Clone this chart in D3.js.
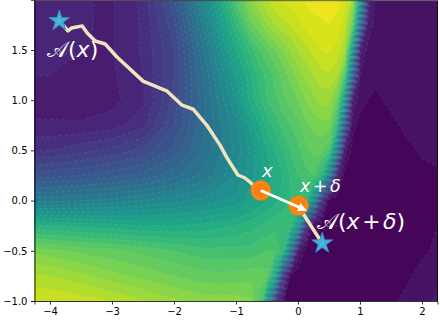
<!DOCTYPE html>
<html>
<head>
<meta charset="utf-8">
<script src="https://cdn.jsdelivr.net/npm/d3@7"></script>
<style>
  html, body { margin: 0; padding: 0; background: #fff; }
  svg { display: block; }
  text { font-family: "DejaVu Sans", sans-serif; }
</style>
</head>
<body>
<div id="chart"></div>
<script>
// grid positions of the field (finer around the steep front)
const xs = [-4.5,-4,-3.5,-3,-2.5,-2,-1.5,-1,-.75,-.625,-.5,-.375,-.25,-.125,0,.125,.25,.375,.5,.625,.75,.875,1,1.125,1.25,1.5,1.75,2,2.5];
const ys = [2.1,1.75,1.5,1.25,1,.75,.5,.25,0,-.25,-.5,-.75,-1.1];

// estimated colour position (percent along viridis), one row per ys entry
const field = [
  [11,10.6,9.2,8.7,13,28,50,75,86,89,92,94,95,96,97,97.5,98,98,98,98,96,90,62,18,5,5,5,5,5],
  [10.5,10.3,9.2,8.7,12.5,23,44,66,77,80,84,87,89,90,92,94,95,95.5,96,95,91,78,38,8,5,5,5,5,5],
  [10,9.8,9.1,8.7,12.5,21,40,60,68,72,75,78,81,84,87,89,91,93,93.5,92,88,55,10,5,5,5,5,5,5],
  [9.3,9,8,8.5,12,21,37,55,63,67,70,73,76,79,82,85,87,89,89.5,88,75,35,6,5,5,5,5,5,5],
  [7.5,7,7,8,11.5,22,36,51,62,65,69,71,74,76,78,81,83,85,85,78,55,10,4,3,1,5,5,5,5],
  [9.6,9.6,9.5,10.5,14,24,36,47,56,60,64,67,70,72,74,77,79,80,80,68,30,4,2,1,1,1,5,5,5],
  [15,15,17,19,22,28,37,46,52,56,60,63,66,69,71,74,76,76,72,45,8,2,1,1,1,1,1,4,5],
  [25,26,27,29,31,35,40,48,53,56,58,61,63,66,69,71,72,66,45,12,2,1,1,1,1,1,1,1,3],
  [41,41,42,43,45,47,49,52,56,58,60,62,64,66,68,66,50,18,2,1,1,1,1,1,1,1,1,1,1],
  [64,63,62,61,60,60,61,63,65,66,67,68,69,68,55,18,2,1,1,1,1,1,1,1,1,1,1,1,5],
  [81,79,77,76,74,72,70,70,70,71,72,72,68,42,8,2,1,1,1,1,1,1,1,1,1,1,1,2,6],
  [88,87,85,82,80,78,76,76,77,77,76,60,22,3,1,1,1,1,1,1,1,1,1,1,1,1,2,5,6],
  [95,95,94,93,90,87,85,85,83,72,40,5,1,1,1,1,1,1,1,1,1,1,1,1,1,3,5,6,6]
];

const levels = d3.range(0, 102, 3);

// optimisation path from x to A(x)
const pathX = [-3.84,-3.71,-3.65,-3.48,-3.40,-3.27,-3.11,-2.92,-2.50,-2.11,-1.87,-1.69,-1.47,-1.26,-1.145,-0.97,-0.855,-0.61];
const pathY = [1.785,1.69,1.72,1.74,1.67,1.59,1.56,1.43,1.19,1.09,0.95,0.91,0.75,0.555,0.425,0.255,0.225,0.10];
// path from x+delta to A(x+delta)
const path2X = [0, 0.39];
const path2Y = [-0.05, -0.425];

const pointX = [-0.6, 0.01];
const pointY = [0.1, -0.05];
const starX = [-3.85, 0.39];
const starY = [1.79, -0.425];
// arrow start and tip
const arrowX = [-0.6, 0.145];
const arrowY = [0.1, -0.1];

const xTicks = [-4,-3,-2,-1,0,1,2];
const yTicks = [-1,-0.5,0,0.5,1,1.5];

const width = 440, height = 320;
const margin = { top: 0.7, right: 2.5, bottom: 19, left: 34.5 };

const svg = d3.select("#chart").append("svg")
  .attr("width", width)
  .attr("height", height);

const xScale = d3.scaleLinear().domain([-4.25, 2.25])
  .range([margin.left, width - margin.right]);
const yScale = d3.scaleLinear().domain([-1, 2])
  .range([height - margin.bottom, -0.2]);

// contours come back in grid units, values sit at i + 0.5
const xIndex = d3.scaleLinear().domain(xs.map((d, i) => i + 0.5)).range(xs.map(d => xScale(d)));
const yIndex = d3.scaleLinear().domain(ys.map((d, i) => i + 0.5)).range(ys.map(d => yScale(d)));
const gridPath = d3.geoPath(d3.geoTransform({
  point(x, y) { this.stream.point(xIndex(x), yIndex(y)); }
}));

const contours = d3.contours()
  .size([xs.length, ys.length])
  .thresholds(levels)(field.flat());

svg.append("clipPath").attr("id", "plot")
  .append("rect")
  .attr("x", margin.left).attr("y", margin.top)
  .attr("width", width - margin.left - margin.right)
  .attr("height", height - margin.top - margin.bottom);

const plot = svg.append("g").attr("clip-path", "url(#plot)");

plot.append("rect")
  .attr("x", margin.left).attr("y", margin.top)
  .attr("width", width - margin.left - margin.right)
  .attr("height", height - margin.top - margin.bottom)
  .attr("fill", d3.interpolateViridis(0));

plot.selectAll(".band")
  .data(contours)
  .enter()
  .append("path")
    .attr("class", "band")
    .attr("d", gridPath)
    .attr("fill", d => d3.interpolateViridis((d.value + 1.5) / 100))
    .attr("stroke", "rgba(255,255,255,0.2)")
    .attr("stroke-width", 0.5)
    .attr("stroke-dasharray", "3 3");

const line = d3.line().x(d => xScale(d[0])).y(d => yScale(d[1]));

[[pathX, pathY], [path2X, path2Y]].forEach(p => {
  plot.append("path")
    .datum(d3.zip(p[0], p[1]))
    .attr("d", line)
    .attr("fill", "none")
    .attr("stroke", "#efe4bb")
    .attr("stroke-width", 3.5)
    .attr("stroke-linejoin", "round");
});

plot.selectAll(".point")
  .data(d3.zip(pointX, pointY))
  .enter()
  .append("circle")
    .attr("class", "point")
    .attr("cx", d => xScale(d[0]))
    .attr("cy", d => yScale(d[1]))
    .attr("r", 10.2)
    .attr("fill", "#f5800e");

// the dashed ring inside each marker
plot.selectAll(".ring")
  .data(d3.zip(pointX, pointY))
  .enter()
  .append("circle")
    .attr("class", "ring")
    .attr("cx", d => xScale(d[0]))
    .attr("cy", d => yScale(d[1]))
    .attr("r", 8)
    .attr("fill", "none")
    .attr("stroke", "#ffb35c")
    .attr("stroke-width", 0.7)
    .attr("stroke-dasharray", "1.5 1.5");

plot.selectAll(".star")
  .data(d3.zip(starX, starY))
  .enter()
  .append("path")
    .attr("class", "star")
    .attr("d", d3.symbol().type(d3.symbolStar).size(135))
    .attr("transform", d => `translate(${xScale(d[0])},${yScale(d[1])})`)
    .attr("fill", "#45bad9")
    .attr("stroke", "#3a86c4")
    .attr("stroke-width", 1);

plot.selectAll(".starInner")
  .data(d3.zip(starX, starY))
  .enter()
  .append("path")
    .attr("class", "starInner")
    .attr("d", d3.symbol().type(d3.symbolStar).size(45))
    .attr("transform", d => `translate(${xScale(d[0])},${yScale(d[1])})`)
    .attr("fill", "none")
    .attr("stroke", "#3a86c4")
    .attr("stroke-width", 0.6)
    .attr("stroke-dasharray", "1.5 1.5");

// arrow from x past x + delta
const ax = xScale(arrowX[0]), ay = yScale(arrowY[0]);
const bx = xScale(arrowX[1]), by = yScale(arrowY[1]);
const ang = Math.atan2(by - ay, bx - ax);
plot.append("line")
  .attr("x1", ax).attr("y1", ay)
  .attr("x2", bx - 6 * Math.cos(ang)).attr("y2", by - 6 * Math.sin(ang))
  .attr("stroke", "#fff").attr("stroke-width", 2.8);
plot.append("path")
  .attr("d", "M0,0L-9,-4.5L-9,4.5Z")
  .attr("transform", `translate(${bx},${by}) rotate(${ang * 180 / Math.PI})`)
  .attr("fill", "#fff");

// labels, parts are [text, italic, gap before]
const labels = svg.append("g").attr("fill", "#fff");
function mathLabel(px, py, size, parts) {
  const t = labels.append("text").attr("x", px).attr("y", py).attr("font-size", size);
  parts.forEach(p => {
    t.append("tspan")
      .attr("dx", p[2] || 0)
      .attr("font-style", p[1] ? "italic" : "normal")
      .text(p[0]);
  });
}
mathLabel(47, 57, 22, [["\u{1D49C}", false], ["(", false], ["x", true], [")", false]]);
mathLabel(262, 177, 18, [["x", true]]);
mathLabel(300, 192, 17.5, [["x", true], ["+", false, 2.5], ["\u03B4", true, 2.5]]);
mathLabel(317, 229, 22, [["\u{1D49C}", false], ["(", false], ["x", true], ["+", false, 2.5], ["\u03B4", true, 2.5], [")", false]]);

// axes
const xAxis = svg.append("g")
  .attr("transform", `translate(0,${height - margin.bottom})`)
  .call(d3.axisBottom(xScale).tickValues(xTicks).tickSize(3.5).tickPadding(3.5).tickFormat(d3.format("d")));
const yAxis = svg.append("g")
  .attr("transform", `translate(${margin.left},0)`)
  .call(d3.axisLeft(yScale).tickValues(yTicks).tickSize(3.5).tickPadding(3.5).tickFormat(d3.format(".1f")));
[xAxis, yAxis].forEach(a => {
  a.attr("font-size", 10).attr("font-family", "DejaVu Sans");
  a.selectAll("line,path").attr("stroke", "#000").attr("stroke-width", 0.8);
  a.selectAll("text").attr("fill", "#000");
});

svg.append("line")
  .attr("x1", margin.left).attr("x2", width - margin.right)
  .attr("y1", margin.top).attr("y2", margin.top)
  .attr("stroke", "#444").attr("stroke-width", 0.8);
svg.append("line")
  .attr("x1", width - margin.right).attr("x2", width - margin.right)
  .attr("y1", margin.top).attr("y2", height - margin.bottom)
  .attr("stroke", "#000").attr("stroke-width", 0.8);
</script>
</body>
</html>
